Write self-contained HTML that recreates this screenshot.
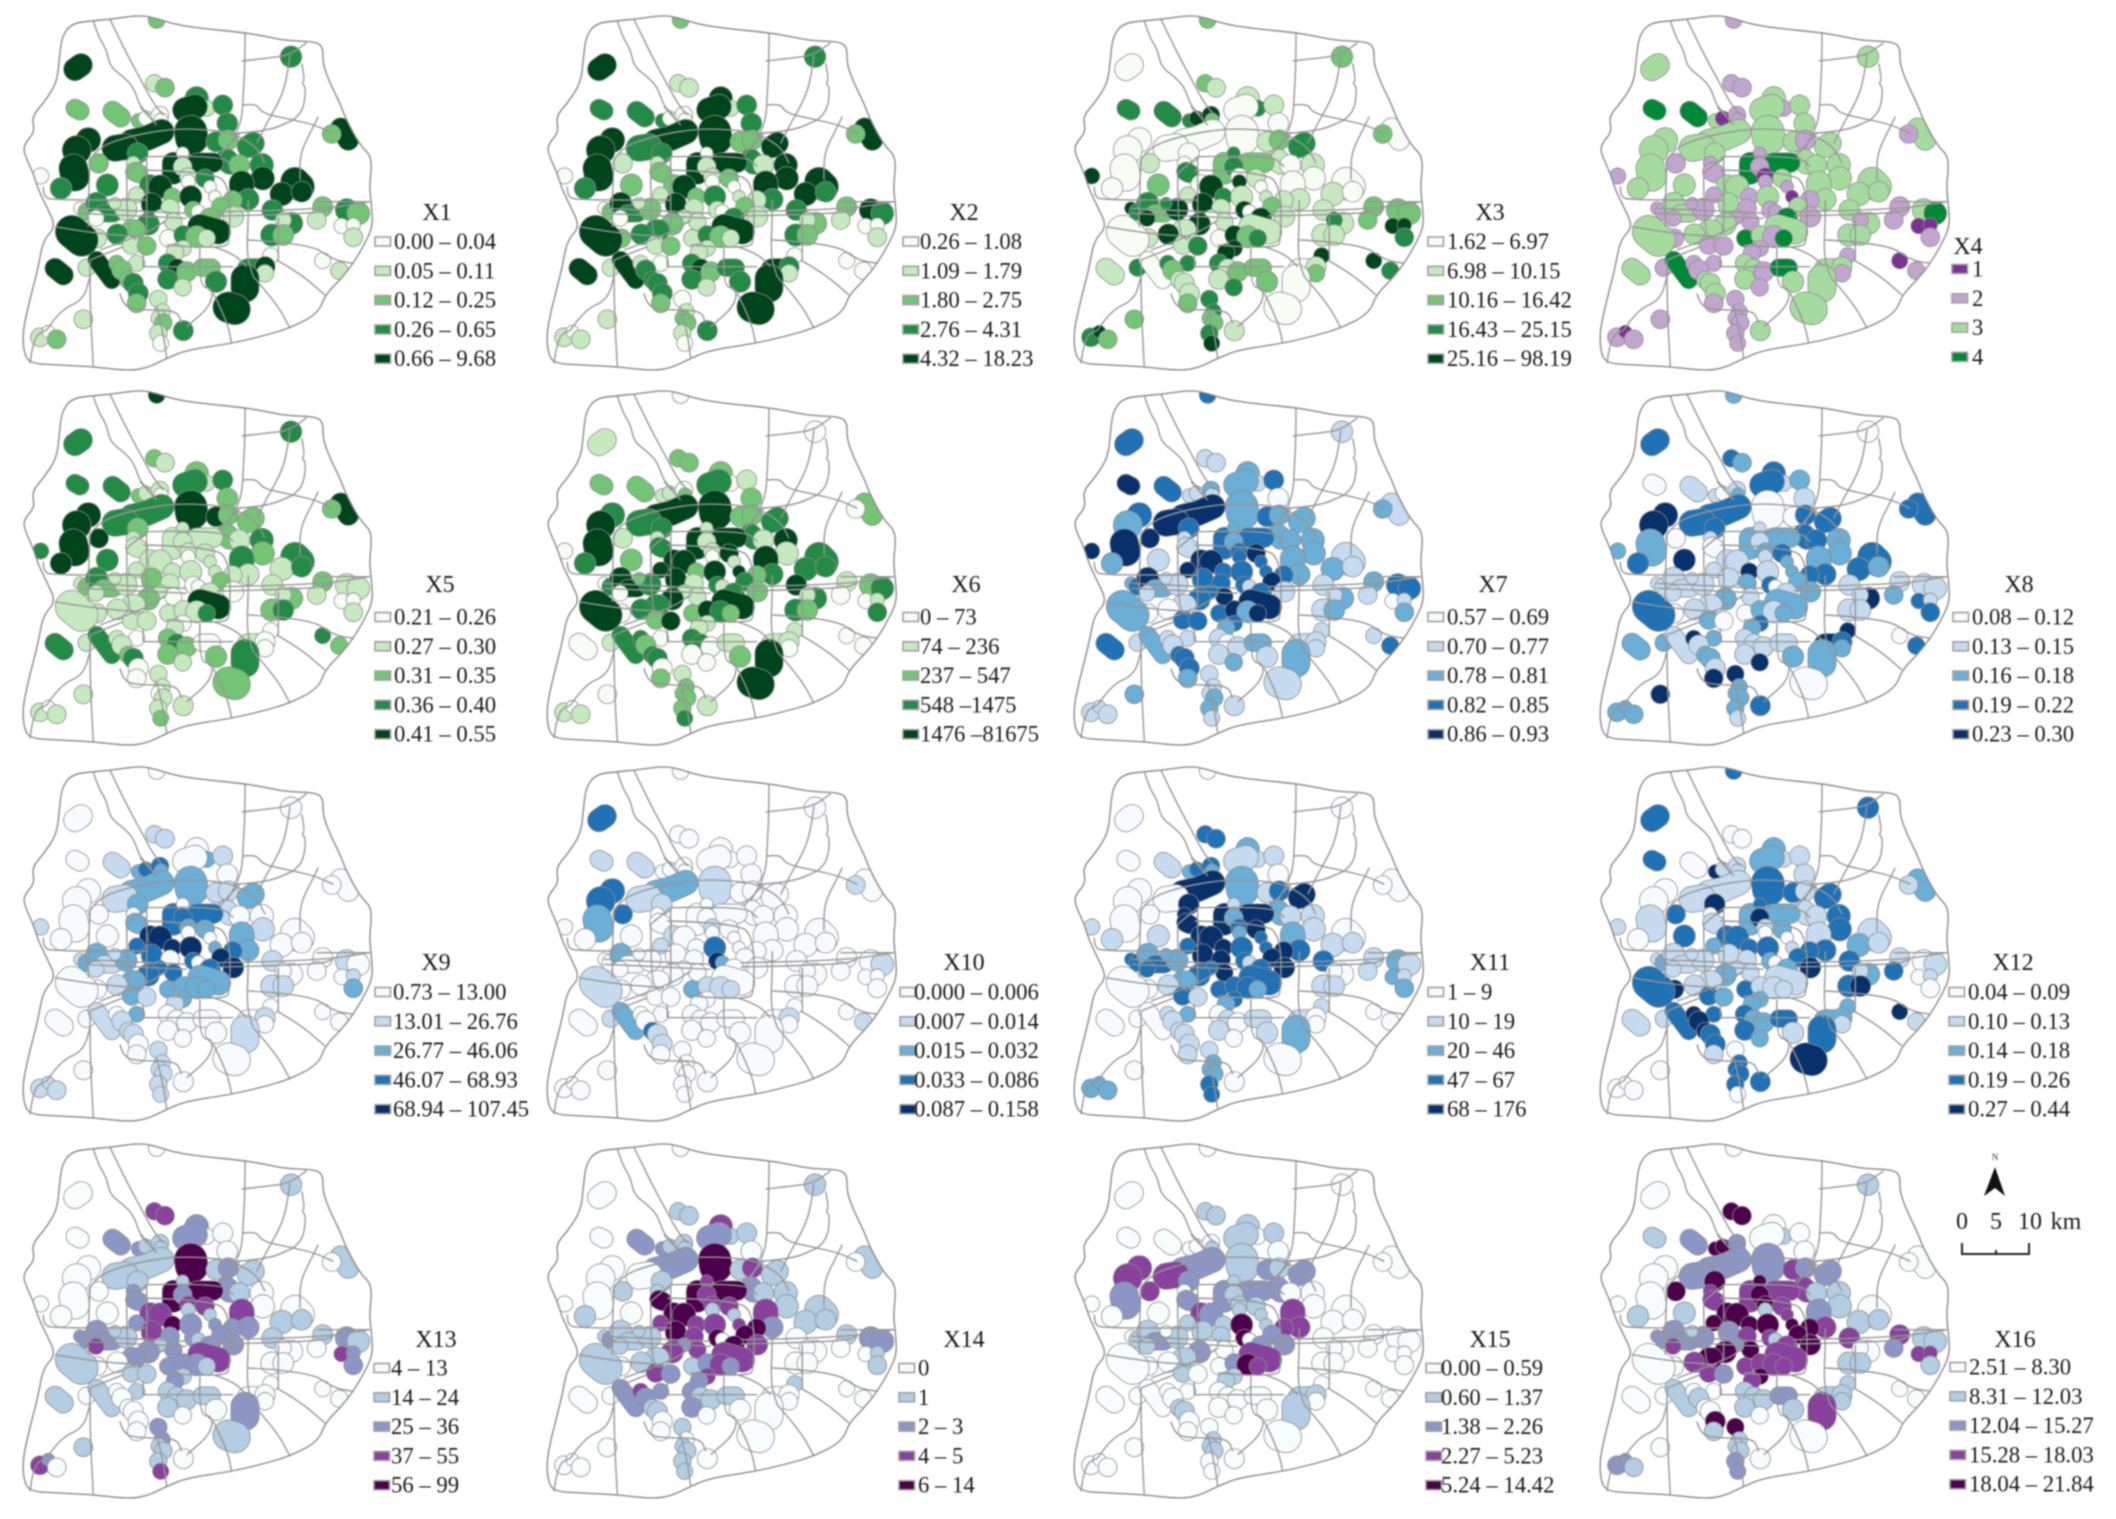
<!DOCTYPE html>
<html lang="en">
<head>
<meta charset="utf-8">
<title>X1–X16 spatial distribution maps</title>
<style>
html,body{margin:0;padding:0;background:#fff;}
#figure{display:block;width:2116px;height:1519px;filter:blur(0.7px);font-family:"Liberation Serif",serif;}
</style>
</head>
<body>
<svg id="figure" xmlns="http://www.w3.org/2000/svg" width="2116" height="1519" viewBox="0 0 2116 1519">
  <rect x="0" y="0" width="2116" height="1519" fill="#ffffff"/>
  <defs>
    <clipPath id="city-clip"><path id="city-clip-path" d=""/></clipPath>
  </defs>
  <g id="panels"></g>
  <g id="north-scale">
    <text x="1995" y="1160" font-size="9" text-anchor="middle" fill="#333">N</text>
    <polygon points="1995,1167 2005,1196 1995,1188 1984,1196" fill="#111"/>
    <text x="1962" y="1229" font-size="24" text-anchor="middle" fill="#1a1a1a">0</text>
    <text x="1996" y="1229" font-size="24" text-anchor="middle" fill="#1a1a1a">5</text>
    <text x="2030" y="1229" font-size="24" text-anchor="middle" fill="#1a1a1a">10</text>
    <text x="2066" y="1229" font-size="24" text-anchor="middle" fill="#1a1a1a">km</text>
    <path d="M1962,1243 V1254 H2029 V1243 M1996,1250 V1254" fill="none" stroke="#222" stroke-width="2"/>
  </g>
</svg>
<script>
/* Colour ramps */
const greens = ["#f7fcf5","#c7e9c0","#74c476","#238b45","#00441b"];
const blues = ["#f7fbff","#c6dbef","#6baed6","#2171b5","#08306b"];
const purples = ["#f7fcfd","#b3cde3","#8c96c6","#88419d","#4d004b"];
const prgn = ["#7b3294","#c2a5cf","#a6dba0","#008837"];

/* Variable names and legend class labels */
const variableNames = ["X1","X2","X3","X4","X5","X6","X7","X8","X9","X10","X11","X12","X13","X14","X15","X16"];
const legendX1 = ["0.00 – 0.04","0.05 – 0.11","0.12 – 0.25","0.26 – 0.65","0.66 – 9.68"];
const legendX2 = ["0.26 – 1.08","1.09 – 1.79","1.80 – 2.75","2.76 – 4.31","4.32 – 18.23"];
const legendX3 = ["1.62 – 6.97","6.98 – 10.15","10.16 – 16.42","16.43 – 25.15","25.16 – 98.19"];
const legendX4 = ["1","2","3","4"];
const legendX5 = ["0.21 – 0.26","0.27 – 0.30","0.31 – 0.35","0.36 – 0.40","0.41 – 0.55"];
const legendX6 = ["0 – 73","74 – 236","237 – 547","548 –1475","1476 –81675"];
const legendX7 = ["0.57 – 0.69","0.70 – 0.77","0.78 – 0.81","0.82 – 0.85","0.86 – 0.93"];
const legendX8 = ["0.08 – 0.12","0.13 – 0.15","0.16 – 0.18","0.19 – 0.22","0.23 – 0.30"];
const legendX9 = ["0.73 – 13.00","13.01 – 26.76","26.77 – 46.06","46.07 – 68.93","68.94 – 107.45"];
const legendX10 = ["0.000 – 0.006","0.007 – 0.014","0.015 – 0.032","0.033 – 0.086","0.087 – 0.158"];
const legendX11 = ["1 – 9","10 – 19","20 – 46","47 – 67","68 – 176"];
const legendX12 = ["0.04 – 0.09","0.10 – 0.13","0.14 – 0.18","0.19 – 0.26","0.27 – 0.44"];
const legendX13 = ["4 – 13","14 – 24","25 – 36","37 – 55","56 – 99"];
const legendX14 = ["0","1","2 – 3","4 – 5","6 – 14"];
const legendX15 = ["0.00 – 0.59","0.60 – 1.37","1.38 – 2.26","2.27 – 5.23","5.24 – 14.42"];
const legendX16 = ["2.51 – 8.30","8.31 – 12.03","12.04 – 15.27","15.28 – 18.03","18.04 – 21.84"];

/* Class index of every site, per variable (sites in siteShapes order) */
const classesX1 = [2,4,2,2,1,2,3,4,2, 3,1,4,3,4,3, 2,0,0,0,4,4,4,4,4,3,0,3,2,3,1,2, 3,2,3,3,2,3,4,4,3,4,4,0,1,1,3,0,0,0, 4,4,4,3,2,1,3,2,0,0,1,3,1,3,2, 3,4,1,4,2,1,4,2,0,2,2,1,2,1, 0,2,3,3,0,1,1,0,3,2,3,1,4,1,2,0, 4,3,2,1,1,1,1, 3,4,2,3,1,2,3,0,0,1,3,4,1,4,4, 1,4,2,2,2,3,3,2,4,1,1,1,2,1,0,3,1,1,0,2];
const classesX2 = [2,4,3,3,1,1,3,4,2, 4,1,4,3,4,3, 3,0,0,0,4,3,4,4,4,3,0,2,1,3,1,2, 2,2,4,3,1,4,4,4,3,4,4,0,1,1,2,0,0,1, 4,4,3,3,2,1,4,3,0,0,1,2,1,3,2, 2,4,1,4,2,1,3,1,0,1,2,1,3,1, 0,2,4,3,0,2,1,1,2,3,3,2,4,1,2,1, 4,3,2,1,1,1,0, 3,4,2,3,1,3,3,0,0,0,4,3,1,4,4, 1,4,1,3,3,3,3,2,4,0,1,2,2,1,0,3,1,1,0,1];
const classesX3 = [2,0,3,3,2,1,2,0,2, 1,3,0,1,0,0, 3,4,4,2,0,0,0,0,0,0,4,2,1,0,0,3, 1,2,3,1,0,1,0,0,1,2,2,3,3,0,1,4,0,1, 0,1,0,1,2,2,2,2,4,4,3,1,3,1,1, 0,4,1,4,3,1,1,4,0,1,2,1,4,1, 4,3,3,2,4,4,3,0,4,1,4,1,0,1,3,0, 1,4,2,3,4,4,3, 3,1,2,1,3,2,2,4,4,3,0,1,2,0,0, 3,0,3,2,1,1,1,2,1,3,3,2,2,3,4,1,2,3,4,2];
const classesX4 = [1,2,3,3,1,1,2,2,1, 2,1,2,2,2,2, 2,0,1,1,2,2,2,2,2,2,1,2,1,2,1,1, 2,1,2,2,2,2,2,2,2,3,3,1,1,0,2,1,1,0, 2,2,2,2,1,1,2,3,0,0,1,2,1,2,2, 2,2,1,2,1,1,2,1,1,1,2,1,3,1, 1,1,2,2,1,1,1,1,2,2,2,1,2,1,1,3, 2,2,1,3,1,1,1, 2,2,1,2,1,3,2,1,0,1,2,2,1,2,2, 1,3,1,1,2,2,2,1,2,1,1,1,1,1,1,2,1,1,0,1];
const classesX5 = [4,3,3,3,2,1,3,4,2, 2,1,3,3,4,2, 2,1,1,0,3,3,4,4,4,4,3,3,4,2,1,1, 4,2,2,2,1,3,2,3,1,1,1,1,1,1,1,0,1,1, 3,1,3,1,2,1,1,1,0,0,1,2,1,2,3, 1,1,1,2,1,1,1,0,0,1,2,0,1,0, 1,2,3,2,1,1,1,1,2,1,1,1,1,1,1,1, 4,1,1,3,0,1,0, 2,3,2,2,1,0,2,0,3,2,1,0,0,3,2, 1,3,1,1,2,3,0,0,3,1,1,0,1,1,2,1,1,1,0,1];
const classesX6 = [0,1,2,2,2,2,0,2,0, 2,0,3,1,4,2, 1,1,0,2,4,3,3,4,4,3,0,2,1,3,1,3, 2,2,3,3,1,4,1,4,3,4,4,1,1,1,4,0,1,4, 3,3,3,4,1,0,2,3,0,1,3,3,1,3,2, 4,4,4,4,2,1,4,3,1,2,3,2,3,1, 0,3,4,4,0,3,2,1,4,3,3,0,4,2,4,2, 4,4,3,2,1,1,0, 3,3,0,0,0,1,2,1,0,0,1,1,0,4,4, 1,3,3,2,3,3,0,2,0,1,2,2,2,2,3,1,0,1,0,1];
const classesX7 = [3,3,4,3,1,1,1,1,2, 2,1,2,3,2,0, 1,1,2,1,4,4,3,2,4,2,4,1,4,3,1,1, 3,2,2,2,2,2,2,2,2,3,3,2,2,3,4,3,3,3, 1,2,1,1,2,1,3,3,0,1,2,2,1,1,2, 4,4,4,3,3,3,3,3,1,3,4,1,3,4, 2,3,4,2,1,1,1,3,3,1,0,0,2,3,3,3, 4,4,2,4,3,2,1, 1,0,1,1,2,2,1,1,1,3,1,1,1,2,1, 1,2,1,1,3,3,3,2,3,1,1,1,2,2,1,1,2,1,1,1];
const classesX8 = [2,3,0,1,3,2,0,3,3, 3,1,3,2,0,1, 1,0,1,2,3,3,4,4,2,3,2,4,0,3,1,0, 0,3,3,3,3,2,2,2,3,2,2,1,1,2,3,1,2,2, 3,3,2,1,1,2,1,1,3,1,3,4,1,1,1, 1,1,1,1,4,2,1,3,0,3,2,2,1,1, 1,1,1,1,1,1,1,0,2,1,1,0,3,2,0,0, 2,2,1,2,3,2,2, 1,1,1,1,4,1,2,4,0,3,4,3,2,2,0, 2,1,4,1,2,2,1,4,2,4,2,2,2,2,1,3,4,2,2,2];
const classesX9 = [0,0,0,1,1,1,0,0,0, 0,2,0,1,2,0, 2,3,3,2,2,1,0,0,0,0,1,0,0,2,0,2, 1,1,2,1,0,0,1,2,2,3,3,0,3,2,2,0,0,2, 0,0,0,1,0,0,1,0,0,1,2,0,0,1,1, 4,4,3,3,4,0,4,3,0,3,4,4,3,3, 1,2,2,1,1,2,1,3,3,2,1,0,0,2,1,2, 2,2,2,2,2,1,2, 0,0,0,0,0,0,0,0,0,0,0,1,0,1,0, 0,1,0,1,1,1,0,0,0,1,1,1,1,1,1,0,0,1,1,1];
const classesX10 = [0,3,1,1,0,0,0,0,1, 0,0,0,0,1,0, 0,0,0,0,2,1,3,3,2,0,0,0,3,1,0,0, 0,0,0,0,0,0,0,0,0,0,0,0,0,1,0,0,0,0, 0,0,0,0,0,0,0,1,0,0,0,0,0,0,0, 1,0,1,0,0,0,3,4,2,0,0,0,0,0, 0,0,2,0,0,0,0,0,0,0,0,0,1,0,0,2, 0,1,1,1,0,0,0, 0,0,0,0,0,0,0,0,0,1,0,1,0,0,0, 1,2,0,0,3,1,1,0,0,0,0,0,0,0,0,0,0,0,0,0];
const classesX11 = [0,0,0,1,3,3,0,0,0, 2,1,1,1,2,0, 2,3,3,2,4,0,0,0,0,1,1,1,0,4,4,4, 1,3,4,2,1,1,1,2,3,4,4,1,2,3,4,2,3,3, 0,1,1,3,1,1,2,1,2,1,2,0,0,1,1, 4,4,3,4,4,4,3,3,1,4,4,4,3,4, 3,3,2,3,3,2,2,3,3,2,1,0,0,3,1,3, 3,3,3,2,3,2,2, 0,1,0,1,0,1,1,1,0,0,1,0,0,2,0, 0,0,1,1,1,1,1,1,0,1,2,2,2,3,3,0,0,2,2,2];
const classesX12 = [3,3,3,0,0,0,3,2,1, 2,1,2,1,3,1, 4,1,1,1,1,1,0,0,1,0,1,3,3,4,0,1, 3,1,3,1,1,3,3,1,3,2,2,3,4,1,2,0,0,1, 1,2,1,3,1,3,0,1,0,1,0,2,1,3,4, 3,3,2,1,3,1,3,2,0,3,3,4,2,1, 1,2,1,1,1,1,1,1,2,1,1,4,3,3,2,3, 1,1,1,1,2,2,3, 3,2,2,3,2,3,1,2,4,1,2,2,1,3,4, 1,3,4,4,4,3,3,1,1,0,3,3,3,3,0,3,0,0,0,0];
const classesX13 = [0,0,0,2,3,3,1,1,0, 2,0,2,0,4,0, 2,1,1,1,1,1,0,0,0,0,0,0,0,1,2,2, 1,2,1,2,1,0,0,3,2,4,4,1,2,3,3,1,1,2, 0,1,1,1,1,0,2,1,3,2,2,0,0,0,0, 3,3,2,3,4,2,2,2,1,2,2,2,2,2, 2,2,2,2,3,1,1,1,2,2,0,0,1,1,1,2, 3,2,2,1,1,2,1, 1,1,1,1,0,1,0,0,0,0,0,0,0,2,1, 0,1,0,0,0,0,0,0,1,2,2,1,1,1,3,0,1,3,2,0];
const classesX14 = [0,0,0,2,1,1,1,1,0, 3,1,2,1,4,0, 2,1,1,1,2,0,0,0,0,1,0,0,1,1,1,4, 1,3,1,2,1,1,1,3,2,4,4,3,3,3,3,1,1,3, 1,1,1,0,1,0,2,2,0,1,1,0,0,0,0, 4,4,3,4,3,3,3,4,0,4,4,3,4,3, 1,2,1,1,1,1,1,2,3,1,1,0,1,3,2,1, 3,2,3,2,3,2,2, 2,1,1,2,0,1,0,1,0,0,0,0,0,0,0, 0,2,3,2,1,1,0,0,0,1,0,1,1,1,1,0,0,0,0,0];
const classesX15 = [0,0,0,0,1,1,0,0,0, 1,0,1,1,1,0, 0,0,0,1,2,3,3,3,2,0,0,0,3,2,0,2, 2,1,2,2,0,0,0,3,3,2,2,1,1,1,1,1,1,1, 0,0,0,0,0,0,0,0,0,0,0,0,0,0,0, 3,2,1,1,1,1,4,4,0,3,2,2,2,0, 0,1,1,2,1,1,0,0,2,1,0,0,0,1,0,0, 3,2,4,3,1,1,0, 0,0,0,0,0,0,0,0,0,0,1,1,0,1,0, 0,0,0,0,1,1,0,0,0,0,1,1,1,0,0,0,0,0,0,0];
const classesX16 = [0,0,1,2,4,4,1,0,0, 0,1,0,0,2,0, 4,4,2,2,2,2,0,0,0,1,0,1,4,4,3,3, 3,2,2,3,1,1,1,2,3,3,3,4,4,4,3,1,3,4, 0,1,1,3,3,2,1,1,3,3,1,0,0,1,1, 4,4,4,2,4,3,4,3,1,4,4,4,3,4, 2,2,2,2,3,2,1,2,4,4,3,0,0,3,2,3, 3,3,3,3,4,3,0, 1,1,1,1,0,2,1,1,0,0,1,1,1,3,0, 0,1,0,1,0,0,4,1,0,4,1,1,1,2,2,0,0,2,2,1];

/* Map geography: each site is [radius, x1,y1, x2,y2, ...] in map units */
const siteShapes = [
[24,470,60],[33,225,208,243,195],[26,225,325,240,333],[28,338,333,362,352],[25,463,250],[27,495,263],[31,873,170],[30,1022,385,1045,420],[27,995,402],
[34,590,295],[23,620,325],[36,555,330,585,320],[29,668,315],[48,572,395,575,415],[30,682,370],
[20,415,362],[21,437,355],[25,480,345],[20,483,360],[36,395,425,440,415,485,395],[38,345,445,375,440],[36,265,420],[42,230,450],[42,220,505,225,530],[31,183,565],[23,122,528],[32,322,555],[28,296,490],[30,413,460],[20,400,490],[27,405,515,415,520],
[29,648,425],[29,685,420],[32,745,440,760,430],[32,680,480,690,490],[30,718,495],[34,785,495],[34,788,535],[36,725,550,725,560],[31,745,598],[32,520,490,520,520],[28,590,488,640,488],[18,548,460],[27,548,500],[25,565,530],[27,615,535],[20,565,545],[18,630,560],[18,645,590],
[42,885,545,900,560],[34,845,582],[30,905,575],[30,817,630],[29,968,620],[27,950,660],[33,1040,630],[33,1075,640],[22,1025,678],[20,1060,675],[27,1060,712],[32,875,670],[23,850,660],[32,815,705],[30,850,705],
[30,450,555],[34,480,560],[23,410,585],[30,455,610,455,615],[25,517,590],[27,510,625],[32,572,590],[25,580,630],[20,595,635],[27,698,600],[27,663,620],[30,700,650],[30,630,655],[25,520,665],
[18,240,625],[25,260,635],[32,290,610],[25,310,640,340,640],[23,288,655],[32,378,628],[17,345,610],[20,480,650],[32,445,672],[30,405,690,395,690],[30,352,703],[27,292,715],[48,215,695,245,720],[27,395,735],[27,440,738],[25,505,715],
[36,600,680,655,695],[27,550,705],[32,590,710],[25,620,715],[23,550,745],[25,525,758],[23,410,790],
[27,503,790],[27,530,805],[29,560,815],[29,503,838],[25,548,862],[25,605,803,635,803],[31,648,845],[23,812,767],[23,968,782],[25,1018,812],[33,745,810,770,810],[29,795,800],[25,795,820],[41,735,835,735,865],[45,685,922,705,928],
[25,260,803],[25,290,780,335,840],[23,350,790],[29,365,810],[25,385,840],[29,400,850],[29,415,880],[27,410,910],[29,165,805,190,825],[25,475,897],[23,487,935],[23,477,955],[25,490,968],[25,475,1000],[23,482,1030],[29,550,992],[27,250,958],[27,120,1012],[18,145,995],[27,170,1018]
];
const cityBoundary = [215,70,280,62,330,58,420,45,470,55,520,72,600,85,735,98,800,110,860,122,950,125,970,145,968,190,990,250,1020,310,1035,350,1060,400,1085,440,1110,465,1115,500,1108,560,1115,620,1118,680,1095,730,1060,790,1020,840,975,885,955,940,870,985,780,1010,695,1030,560,1050,500,1075,440,1105,380,1112,280,1100,170,1095,90,1090,72,1060,68,1000,82,930,100,860,115,800,130,720,168,680,140,620,115,570,100,520,70,455,75,430,105,395,95,350,130,310,170,250,178,180,185,110];
const roadLines = [
[280,62,295,110,320,150,330,200,370,230,400,260,420,320,450,345],
[330,58,360,120,390,180,420,235,460,310,490,345],
[735,98,735,180,730,280,725,370,680,450],
[725,183,800,175,870,165,920,128],
[870,165,860,240,840,300,800,370,770,430],
[905,190,915,240,905,250,918,262,910,330,880,360],
[730,315,770,310,785,340,880,360,945,375,1000,400],
[955,350,935,390,900,460,900,540],
[700,400,800,395,880,360],
[270,480,290,445,380,410,520,385,640,390,700,400,770,440,795,490],
[270,480,265,600,265,680],
[440,470,660,465,700,500],
[380,520,440,470],
[380,520,380,700,410,720],
[430,510,640,515,690,560,690,725,675,740,590,742,500,735],
[440,470,440,700],
[130,560,130,590,160,600,440,600],
[240,625,560,640],
[240,640,560,655],
[650,635,950,630,1110,605],
[650,648,950,642,1000,625],
[950,605,1110,605],
[745,600,745,650,740,770,760,830],
[745,720,930,730,1000,780,1060,790],
[830,780,900,820,975,885],
[760,830,830,910,870,985],
[640,880,680,960,695,1030],
[270,780,270,920,280,1100],
[140,990,180,930,250,900,270,830],
[90,1090,100,1010,140,990],
[360,880,370,920,420,930,530,930,545,970],
[470,920,490,1000,500,1075],
[600,745,595,860,640,865,630,920,560,980],
[430,800,700,800],
[430,760,430,800],
[640,740,700,760,740,800],
[165,680,280,700,420,710],
[300,750,440,700,500,660],
[270,780,370,740],
[835,650,835,780],
[420,320,470,375],
[660,465,690,430,720,400]
];

/* Panel layout (map origin and legend anchors, page pixels) */
const panelColumns = [0,524,1051,1577];
const panelRows = [0,375,751,1128];
const panelRamps = [greens,greens,greens,prgn,greens,greens,blues,blues,blues,blues,blues,blues,purples,purples,purples,purples];
const panelClasses = [classesX1,classesX2,classesX3,classesX4,classesX5,classesX6,classesX7,classesX8,classesX9,classesX10,classesX11,classesX12,classesX13,classesX14,classesX15,classesX16];
const panelLegends = [legendX1,legendX2,legendX3,legendX4,legendX5,legendX6,legendX7,legendX8,legendX9,legendX10,legendX11,legendX12,legendX13,legendX14,legendX15,legendX16];
const legendSwatchX = [375,903,1428,1952,375,903,1428,1953,375,900,1428,1949,374,899,1426,1950];
const legendTextX = [394,920,1447,1972,394,920,1447,1972,393,914,1447,1968,391,918,1441,1969];
const legendTitleX = [437,964,1490,1968,440,966,1493,2019,436,964,1490,2013,436,964,1490,2015];
const legendTitleY = [220,220,220,254,592,592,592,592,970,970,970,970,1347,1347,1347,1347];
const legendFirstRowY = [241.5,241.5,241.5,269,617,617,617,617,992,992,992,992,1368,1368,1368,1367];

const MAP_UNITS_PER_PIXEL = 3;
const LEGEND_ROW_STEP = 29.3;
const svgNS = "http://www.w3.org/2000/svg";
const mapScale = v => v / MAP_UNITS_PER_PIXEL;
const fmt = v => mapScale(v).toFixed(1);
const linePath = pts => {
  let d = "";
  for (let i = 0; i < pts.length; i += 2) {
    d += (i ? "L" : "M") + fmt(pts[i]) + " " + fmt(pts[i + 1]);
  }
  return d;
};
/* Smooth open polyline through segment midpoints */
const smoothPath = pts => {
  let d = "M" + fmt(pts[0]) + " " + fmt(pts[1]);
  const n = pts.length / 2;
  for (let i = 1; i < n - 1; i++) {
    const mx = (pts[2 * i] + pts[2 * i + 2]) / 2;
    const my = (pts[2 * i + 1] + pts[2 * i + 3]) / 2;
    d += "Q" + fmt(pts[2 * i]) + " " + fmt(pts[2 * i + 1]) + " " + fmt(mx) + " " + fmt(my);
  }
  return d + "L" + fmt(pts[2 * n - 2]) + " " + fmt(pts[2 * n - 1]);
};
/* Smooth closed ring through segment midpoints */
const smoothRing = pts => {
  const n = pts.length / 2;
  let d = "";
  for (let i = 0; i < n; i++) {
    const j = (i + 1) % n;
    const mx = (pts[2 * i] + pts[2 * j]) / 2;
    const my = (pts[2 * i + 1] + pts[2 * j + 1]) / 2;
    if (i === 0) {
      const sx = (pts[2 * n - 2] + pts[0]) / 2;
      const sy = (pts[2 * n - 1] + pts[1]) / 2;
      d += "M" + fmt(sx) + " " + fmt(sy);
    }
    d += "Q" + fmt(pts[2 * i]) + " " + fmt(pts[2 * i + 1]) + " " + fmt(mx) + " " + fmt(my);
  }
  return d + "Z";
};
const make = (tag, attrs) => {
  const el = document.createElementNS(svgNS, tag);
  for (const k in attrs) el.setAttribute(k, attrs[k]);
  return el;
};

const boundaryPath = smoothRing(cityBoundary);
document.getElementById("city-clip-path").setAttribute("d", boundaryPath);

const root = document.getElementById("panels");
variableNames.forEach((name, p) => {
  const slug = name.toLowerCase();
  const ox = panelColumns[p % 4];
  const oy = panelRows[Math.floor(p / 4)];
  const ramp = panelRamps[p];
  const classes = panelClasses[p];

  const panel = make("g", {});
  
  

  const map = make("g", { transform: "translate(" + ox + "," + oy + ")" });
  
  

  const sites = make("g", { "clip-path": "url(#city-clip)" });
  
  
  siteShapes.forEach((shape, i) => {
    const radius = mapScale(shape[0]);
    let pts = shape.slice(1);
    if (pts.length === 2) pts = pts.concat([pts[0] + 0.01, pts[1]]);
    const d = linePath(pts);
    const site = make("g", {});
    
    
    site.appendChild(make("path", { d: d, fill: "none", stroke: "#8d8d8d", "stroke-width": (2 * radius + 1.6).toFixed(1), "stroke-linecap": "round", "stroke-linejoin": "round" }));
    site.appendChild(make("path", { d: d, fill: "none", stroke: ramp[classes[i]], "stroke-width": (2 * radius).toFixed(1), "stroke-linecap": "round", "stroke-linejoin": "round" }));
    sites.appendChild(site);
  });
  map.appendChild(sites);

  const roads = make("g", { fill: "none", stroke: "#969696", "stroke-width": "1.4", "stroke-linejoin": "round" });
  
  
  roadLines.forEach(line => {
    roads.appendChild(make("path", { d: smoothPath(line) }));
  });
  map.appendChild(roads);

  const outline = make("path", { d: boundaryPath, fill: "none", stroke: "#8a8a8a", "stroke-width": "1.4", "stroke-linejoin": "round" });
  
  
  map.appendChild(outline);
  panel.appendChild(map);

  const legend = make("g", {});
  
  
  const title = make("text", { x: legendTitleX[p], y: legendTitleY[p], "font-size": "24", "text-anchor": "middle", fill: "#1a1a1a" });
  title.textContent = name;
  
  
  legend.appendChild(title);
  panelLegends[p].forEach((label, r) => {
    const cy = legendFirstRowY[p] + r * LEGEND_ROW_STEP;
    const swatch = make("rect", { x: legendSwatchX[p], y: cy - 4.5, width: 15.5, height: 9, fill: ramp[r], stroke: "#a0a0a0", "stroke-width": "1.6" });
    
    
    legend.appendChild(swatch);
    const text = make("text", { x: legendTextX[p], y: cy + 7.5, "font-size": "22.7", fill: "#1a1a1a" });
    text.textContent = label;
    
    
    legend.appendChild(text);
  });
  panel.appendChild(legend);
  root.appendChild(panel);
});
</script>
</body>
</html>
